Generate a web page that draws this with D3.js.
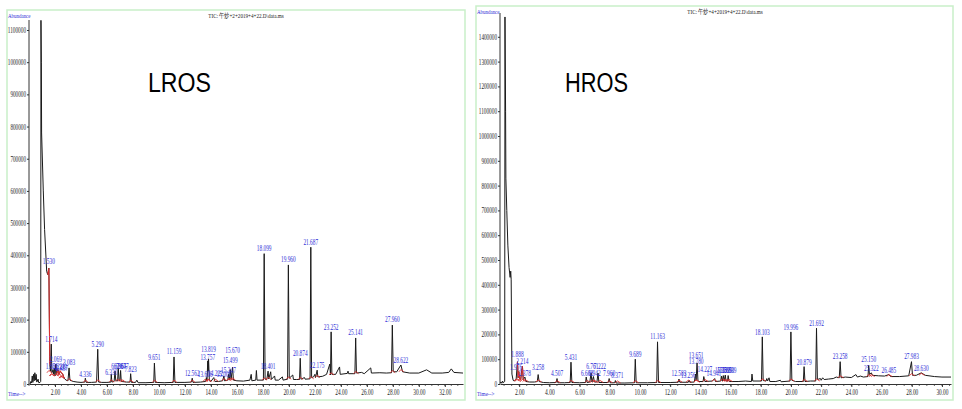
<!DOCTYPE html>
<html>
<head>
<meta charset="utf-8">
<script src="https://cdn.jsdelivr.net/npm/d3@7"></script>
<style>
body { margin: 0; background: #fff; }
svg { display: block; }
</style>
</head>
<body>
<svg width="962" height="409"></svg>
<script>
// ---- LROS data (time in min, abundance) ----
const lrosTimeRange = [0, 33.4];
const lrosAbundanceRange = [0, 1100000];
const lrosYTicks = [0, 100000, 200000, 300000, 400000, 500000, 600000, 700000, 800000, 900000, 1000000, 1100000];
const lrosXTicks = [2, 4, 6, 8, 10, 12, 14, 16, 18, 20, 22, 24, 26, 28, 30, 32];
const lrosTrace = [
  [0.08,0],[0.15,8000],[0.2,3000],[0.25,25000],[0.3,5000],[0.35,30000],[0.4,10000],[0.45,35000],
  [0.5,12000],[0.55,30000],[0.6,6000],[0.7,15000],[0.75,4000],[0.85,5000],[0.9,8000],
  [0.92,1130000],[0.95,1000000],[0.97,780000],[1.1,600000],[1.2,480000],[1.36,350000],[1.44,340000],
  [1.53,360000],[1.6,60000],[1.65,40000],[1.714,124000],[1.76,35000],[1.86,45000],[1.9,30000],
  [1.97,50000],[2.0,25000],[2.069,62000],[2.12,30000],[2.22,45000],[2.3,30000],[2.4,40000],
  [2.5,35000],[2.6,30000],[2.7,18000],[2.85,12000],[3.0,10000],[3.083,50000],[3.15,12000],
  [3.4,8000],[3.7,6000],[4.0,5000],[4.3,6000],[4.336,18000],[4.4,5000],[4.8,5000],[5.2,6000],
  [5.29,108000],[5.36,6000],[5.6,5000],[6.0,5000],[6.3,6000],[6.33,30000],[6.38,6000],[6.55,8000],
  [6.62,40000],[6.68,10000],[6.82,10000],[6.87,50000],[6.93,12000],[7.0,10000],[7.05,42000],
  [7.1,8000],[7.5,6000],[7.78,6000],[7.823,32000],[7.88,5000],[8.2,5000],[8.3,12000],[8.4,4000],
  [9.0,4000],[9.6,5000],[9.651,65000],[9.72,5000],[10.4,4000],[11.1,5000],[11.159,84000],
  [11.23,5000],[12.0,5000],[12.5,6000],[12.562,18000],[12.62,5000],[13.2,6000],[13.6,8000],
  [13.65,20000],[13.7,10000],[13.757,72000],[13.79,40000],[13.819,78000],[13.88,10000],[14.0,8000],
  [14.222,20000],[14.3,8000],[14.6,8000],[14.9,10000],[15.0,25000],[15.05,10000],[15.3,12000],
  [15.35,30000],[15.42,12000],[15.49,45000],[15.55,14000],[15.67,52000],[15.73,12000],[16.0,10000],
  [16.5,9000],[17.0,12000],[17.1,30000],[17.15,10000],[17.45,12000],[17.5,42000],[17.55,12000],
  [18.04,12000],[18.099,405000],[18.17,15000],[18.3,14000],[18.4,40000],[18.45,16000],[18.6,38000],
  [18.65,14000],[18.9,25000],[18.95,12000],[19.2,12000],[19.5,22000],[19.55,12000],[19.9,15000],
  [19.96,370000],[20.03,18000],[20.3,28000],[20.35,14000],[20.6,14000],[20.82,14000],[20.874,80000],
  [20.93,15000],[21.2,20000],[21.25,15000],[21.63,16000],[21.687,425000],[21.75,20000],[21.9,22000],
  [22.0,30000],[22.05,20000],[22.175,43000],[22.23,22000],[22.6,24000],[22.9,30000],[23.15,62000],
  [23.2,28000],[23.252,162000],[23.31,30000],[23.6,30000],[23.9,53000],[23.95,30000],[24.5,33000],
  [24.55,40000],[24.6,32000],[25.08,32000],[25.141,143000],[25.2,34000],[25.6,36000],[25.8,32000],
  [26.3,50000],[26.35,34000],[27.0,35000],[27.5,34000],[27.9,35000],[27.96,183000],[28.03,38000],
  [28.3,38000],[28.622,59000],[28.75,38000],[29.3,34000],[30.0,34000],[30.6,44000],[31.0,34000],
  [31.8,34000],[32.3,36000],[32.5,47000],[32.7,36000],[33.4,34000]
];
const lrosLabels = [
  ["1.530",1.53,370000],["1.714",1.714,128000],["2.069",2.069,66000],["1.861",1.76,42000],
  ["2.221",2.3,45000],["2.339",2.45,40000],["2.497",2.55,36000],["3.083",3.083,55000],
  ["4.336",4.336,18000],["5.290",5.29,112000],["6.330",6.33,25000],["6.696",6.8,42000],
  ["6.867",7.0,44000],["7.047",7.2,44000],["7.823",7.823,34000],["9.651",9.651,70000],
  ["11.159",11.159,89000],["12.562",12.562,22000],["13.606",13.55,18000],["13.757",13.757,72000],
  ["13.819",13.819,96000],["14.222",14.35,22000],["15.009",15.0,20000],["15.347",15.35,30000],
  ["15.499",15.49,63000],["15.670",15.67,94000],["18.401",18.401,43000],["18.099",18.099,410000],
  ["19.960",19.96,375000],["20.874",20.874,84000],["21.687",21.687,430000],["22.175",22.175,47000],
  ["23.252",23.252,166000],["25.141",25.141,148000],["27.960",27.96,188000],["28.622",28.622,62000]
];
const lrosRed = [[1.44, 1.62], [2.1, 2.75]];

// ---- HROS data ----
const hrosTimeRange = [0.73, 30.6];
const hrosAbundanceRange = [0, 1400000];
const hrosYTicks = [0, 100000, 200000, 300000, 400000, 500000, 600000, 700000, 800000, 900000, 1000000, 1100000, 1200000, 1300000, 1400000];
const hrosXTicks = [2, 4, 6, 8, 10, 12, 14, 16, 18, 20, 22, 24, 26, 28, 30];
const hrosTrace = [
  [0.73,5000],[0.8,8000],[0.85,3000],[0.9,12000],[0.95,5000],[1.0,8000],[1.04,10000],
  [1.06,1480000],[1.1,1100000],[1.12,830000],[1.18,700000],[1.25,560000],[1.33,470000],[1.4,430000],
  [1.44,455000],[1.47,420000],[1.52,40000],[1.6,15000],[1.7,12000],[1.8,20000],[1.888,90000],
  [1.93,25000],[1.976,50000],[2.03,20000],[2.1,18000],[2.214,72000],[2.27,18000],[2.378,28000],
  [2.45,10000],[2.7,8000],[3.0,8000],[3.2,10000],[3.258,38000],[3.32,10000],[3.6,6000],[4.0,5000],
  [4.45,6000],[4.507,22000],[4.56,5000],[5.0,5000],[5.38,6000],[5.431,88000],[5.49,6000],[6.0,5000],
  [6.4,6000],[6.44,28000],[6.5,6000],[6.68,8000],[6.76,44000],[6.82,8000],[6.92,30000],[6.98,8000],
  [7.15,8000],[7.222,44000],[7.28,6000],[7.9,6000],[7.96,22000],[8.02,5000],[8.33,5000],[8.371,14000],
  [8.42,4000],[9.0,4000],[9.64,5000],[9.689,100000],[9.75,5000],[10.5,5000],[11.11,6000],
  [11.163,170000],[11.23,6000],[12.0,6000],[12.53,7000],[12.583,20000],[12.64,7000],[13.2,7000],
  [13.256,15000],[13.3,7000],[13.6,8000],[13.68,40000],[13.72,15000],[13.78,85000],[13.84,15000],
  [13.9,10000],[14.18,10000],[14.227,30000],[14.3,10000],[14.8,12000],[14.95,22000],[15.0,10000],
  [15.35,12000],[15.39,32000],[15.45,12000],[15.52,34000],[15.58,12000],[15.65,36000],[15.7,12000],
  [15.8,12000],[15.84,34000],[15.9,10000],[16.5,10000],[17.0,12000],[17.38,10000],[17.42,40000],
  [17.47,12000],[18.05,12000],[18.103,190000],[18.16,14000],[18.35,12000],[18.4,22000],[18.45,12000],
  [18.55,25000],[18.6,10000],[19.0,10000],[19.3,15000],[19.35,9000],[19.94,12000],[19.996,210000],
  [20.06,15000],[20.3,10000],[20.82,10000],[20.87,70000],[20.93,10000],[21.3,12000],[21.64,12000],
  [21.692,225000],[21.75,18000],[21.95,22000],[22.0,15000],[22.1,25000],[22.2,18000],[22.5,20000],
  [22.8,22000],[23.0,28000],[23.2,25000],[23.258,90000],[23.32,25000],[23.6,28000],[24.0,26000],
  [24.3,38000],[24.4,28000],[24.6,32000],[24.8,28000],[25.1,30000],[25.15,75000],[25.2,38000],
  [25.322,45000],[25.4,35000],[25.8,33000],[26.2,32000],[26.485,38000],[26.6,30000],[27.2,30000],
  [27.8,33000],[27.983,90000],[28.05,35000],[28.3,35000],[28.63,45000],[28.9,35000],[29.5,30000],
  [30.0,28000],[30.6,28000]
];
const hrosLabels = [
  ["1.888",1.888,105000],["2.214",2.214,75000],["1.976",1.8,52000],["2.378",2.378,30000],
  ["3.258",3.258,52000],["4.507",4.507,27000],["5.431",5.431,92000],["6.608",6.5,30000],
  ["6.761",6.85,55000],["6.942",7.0,30000],["7.222",7.35,55000],["7.960",7.96,28000],
  ["8.371",8.5,22000],["9.689",9.689,105000],["11.163",11.163,178000],["12.583",12.583,30000],
  ["13.256",13.2,22000],["13.651",13.72,102000],["13.780",13.72,75000],["14.227",14.3,45000],
  ["14.941",14.9,30000],["15.389",15.45,42000],["15.519",15.6,42000],["15.650",15.75,42000],
  ["15.839",15.9,42000],["18.103",18.103,195000],["19.996",19.996,215000],["20.879",20.879,74000],
  ["21.692",21.692,230000],["23.258",23.258,95000],["25.150",25.15,85000],["25.322",25.322,50000],
  ["26.485",26.485,42000],["27.983",27.983,95000],["28.630",28.63,50000]
];
const hrosRed = [[1.85, 2.3]];

const svg = d3.select("svg");
const blue = "#2b2bd6";

function fitText(sel, perChar) {
  sel.attr("textLength", function() { return this.textContent.length * perChar; })
    .attr("lengthAdjust", "spacingAndGlyphs");
}

function drawPanel(p) {
  const g = svg.append("g");
  const x = d3.scaleLinear().domain(p.timeRange).range([p.left, p.right]);
  const y = d3.scaleLinear().domain([0, p.yTicks[p.yTicks.length - 1]]).range([p.base, p.yTopTick]);

  // frame
  g.append("rect")
    .attr("x", p.frame[0]).attr("y", p.frame[1])
    .attr("width", p.frame[2] - p.frame[0]).attr("height", p.frame[3] - p.frame[1])
    .attr("fill", "none").attr("stroke", "#c9efc9").attr("stroke-width", 1.5);

  // y axis
  const yAxis = d3.axisLeft(y).tickValues(p.yTicks).tickFormat(d3.format("d")).tickSize(2).tickPadding(1).tickSizeOuter(0);
  const ya = g.append("g").attr("transform", `translate(${p.left},0)`).call(yAxis);
  ya.select(".domain").remove();
  ya.selectAll("line").attr("stroke", "#333");
  ya.selectAll("text").attr("font-family", "Liberation Serif").attr("font-size", 8).attr("fill", "#222").call(fitText, 2.6);
  g.append("line").attr("x1", p.left).attr("x2", p.left).attr("y1", p.axisTop).attr("y2", p.base)
    .attr("stroke", "#333").attr("stroke-width", 1);

  // x axis
  const minor = d3.range(Math.ceil(p.timeRange[0] * 2) / 2, p.timeRange[1], 0.5);
  g.append("g").selectAll("line").data(minor).join("line")
    .attr("x1", d => x(d)).attr("x2", d => x(d)).attr("y1", p.base).attr("y2", p.base + 2)
    .attr("stroke", "#444").attr("stroke-width", 0.8);
  const xAxis = d3.axisBottom(x).tickValues(p.xTicks).tickFormat(d3.format(".2f")).tickSize(3).tickPadding(2).tickSizeOuter(0);
  const xa = g.append("g").attr("transform", `translate(0,${p.base})`).call(xAxis);
  xa.select(".domain").attr("stroke", "#333");
  xa.selectAll("line").attr("stroke", "#333");
  xa.selectAll("text").attr("font-family", "Liberation Serif").attr("font-size", 8).attr("fill", "#222").call(fitText, 2.4);

  // texts
  g.append("text").attr("x", p.frame[0] + 1).attr("y", p.frame[1] + 8).text("Abundance")
    .attr("font-family", "Liberation Serif").attr("font-size", 7).attr("fill", blue).call(fitText, 2.5);
  g.append("text").attr("x", p.frame[0] + 1).attr("y", p.base + 12).text("Time-->")
    .attr("font-family", "Liberation Serif").attr("font-size", 7).attr("fill", blue).call(fitText, 2.5);
  g.append("text").attr("x", p.titleX).attr("y", p.frame[1] + 8).attr("text-anchor", "middle").text(p.title)
    .attr("font-family", "Liberation Serif").attr("font-size", 7).attr("fill", "#222").call(fitText, 2.6);
  g.append("text").attr("x", p.nameX).attr("y", 92).text(p.name)
    .attr("font-family", "Liberation Sans").attr("font-size", 27).attr("fill", "#000")
    .attr("textLength", 63).attr("lengthAdjust", "spacingAndGlyphs");

  const line = d3.line().x(d => x(d[0])).y(d => y(d[1]));

  // trace
  g.append("path").datum(p.trace).attr("d", line)
    .attr("fill", "none").attr("stroke", "#1a1a1a").attr("stroke-width", 1).attr("stroke-linejoin", "round");

  // red integration marks
  const baseAt = t => d3.min(p.trace.filter(d => d[0] >= t - 0.3 && d[0] <= t + 0.3), d => d[1]) || 0;
  g.append("g").selectAll("path").data(p.labels).join("path")
    .attr("d", d => {
      const b = baseAt(d[1]);
      return line([[d[1] - 0.15, b], [d[1], b + 7000 * p.redScale], [d[1] + 0.22, b]]);
    })
    .attr("fill", "none").attr("stroke", "#d83030").attr("stroke-width", 0.9);
  g.append("g").selectAll("path").data(p.red).join("path")
    .attr("d", r => line(p.trace.filter(d => d[0] >= r[0] && d[0] <= r[1])))
    .attr("fill", "none").attr("stroke", "#d83030").attr("stroke-width", 1.1);

  // peak labels
  g.append("g").selectAll("text").data(p.labels).join("text")
    .attr("x", d => x(d[1])).attr("y", d => y(d[2]) - 1)
    .attr("text-anchor", "middle").text(d => d[0])
    .attr("font-family", "Liberation Serif").attr("font-size", 9).attr("fill", blue)
    .call(fitText, 2.45);
}

drawPanel({
  frame: [7, 10, 465, 400], left: 29, right: 463, base: 384, yTopTick: 30, axisTop: 20,
  timeRange: lrosTimeRange, yTicks: lrosYTicks, xTicks: lrosXTicks,
  trace: lrosTrace, labels: lrosLabels, red: lrosRed, redScale: 1,
  title: "TIC: 午炒+2+2019+4+22.D\\data.ms", titleX: 246, name: "LROS", nameX: 148
});
drawPanel({
  frame: [476, 6, 953, 400], left: 500, right: 951, base: 384, yTopTick: 36.8, axisTop: 13,
  timeRange: hrosTimeRange, yTicks: hrosYTicks, xTicks: hrosXTicks,
  trace: hrosTrace, labels: hrosLabels, red: hrosRed, redScale: 1.2,
  title: "TIC: 午炒+4+2019+4+22.D\\data.ms", titleX: 725, name: "HROS", nameX: 565
});
</script>
</body>
</html>
